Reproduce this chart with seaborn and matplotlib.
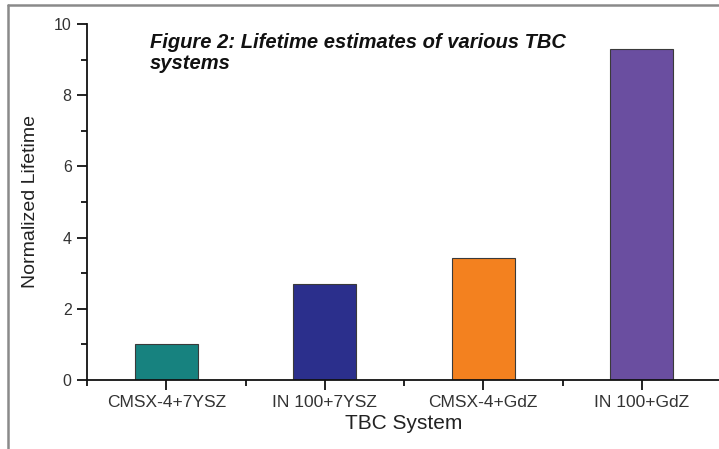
import seaborn as sns
import matplotlib.pyplot as plt
import pandas as pd
from matplotlib.lines import Line2D
from matplotlib.ticker import MultipleLocator

# TBC 시스템별 수명 추정값
systems = ['CMSX-4+7YSZ', 'IN100+7YSZ', 'CMSX-4+GdZ', 'IN100+GdZ']
tick_labels = ['CMSX-4+7YSZ', 'IN 100+7YSZ', 'CMSX-4+GdZ', 'IN 100+GdZ']
lifetime = [1.0, 2.7, 3.42, 9.3]
colors = ['#17827f', '#2b2f8c', '#f3811f', '#6a4ea0']

df = pd.DataFrame({'system': systems, 'lifetime': lifetime})

sns.set_style('white')
plt.rcParams['font.family'] = ['Liberation Sans', 'DejaVu Sans']

fig = plt.figure(figsize=(7.19, 4.49), dpi=100)
ax = fig.add_axes([87 / 719, 1 - 380 / 449, 634 / 719, 356 / 449])

sns.barplot(data=df, x='system', y='lifetime', hue='system',
            palette=colors, saturation=1, width=0.4, edgecolor='#3a3a3a',
            linewidth=0.8, legend=False, ax=ax)

ax.set_xlim(-0.5, 3.5)
ax.set_ylim(0, 10)
ax.set_xticks(range(len(systems)))
ax.set_xticklabels(tick_labels, fontsize=12.5, color='#333333')
ax.xaxis.set_minor_locator(MultipleLocator(1, offset=0.5))
ax.yaxis.set_major_locator(MultipleLocator(2))
ax.yaxis.set_minor_locator(MultipleLocator(1))
ax.tick_params(axis='y', labelsize=11.5, labelcolor='#333333', pad=4)
ax.tick_params(axis='x', pad=4)
ax.tick_params(which='major', direction='out', length=7, width=1.3, color='#111111',
               left=True, bottom=True)
ax.tick_params(which='minor', direction='out', length=4, width=1.3, color='#111111',
               left=True, bottom=True)

for s in ['top', 'right']:
    ax.spines[s].set_visible(False)
for s in ['left', 'bottom']:
    ax.spines[s].set_color('#111111')
    ax.spines[s].set_linewidth(1.3)

ax.set_xlabel('TBC System', fontsize=15, color='#222222', labelpad=3)
ax.set_ylabel('Normalized Lifetime', fontsize=14, color='#222222', labelpad=11)

fig.text(150 / 719, 1 - 33 / 449, 'Figure 2: Lifetime estimates of various TBC\nsystems',
         fontsize=14.5, fontweight='bold', fontstyle='italic', va='top', ha='left',
         linespacing=1.15, color='#111111')

# 바깥 테두리 선
fig.add_artist(Line2D([8 / 719, 1], [1 - 5 / 449, 1 - 5 / 449],
                      transform=fig.transFigure, color='#8a8a8a', lw=1.8))
fig.add_artist(Line2D([8 / 719, 8 / 719], [0, 1 - 5 / 449],
                      transform=fig.transFigure, color='#8a8a8a', lw=1.8))

fig.savefig('out.png', dpi=100)
